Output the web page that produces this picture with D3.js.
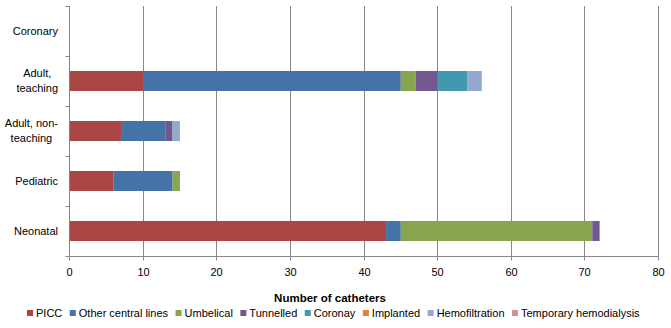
<!DOCTYPE html>
<html lang="en">
<head>
    <meta charset="UTF-8">
    <title>Catheters by unit type</title>
    <script src="https://d3js.org/d3.v7.min.js"></script>
    <style>
        body { margin: 0; background: #fff; }
        text { font-family: "Liberation Sans", Arial, sans-serif; fill: #000; }
    </style>
</head>
<body>
<div id="chart"></div>
<script>
    // categories, top to bottom
    let units = ['Coronary', 'Adult, teaching', 'Adult, non-teaching', 'Pediatric', 'Neonatal'];
    let unitLines = [['Coronary'], ['Adult,', 'teaching'], ['Adult, non-', 'teaching'], ['Pediatric'], ['Neonatal']];

    // catheter types (stack order) and their colours
    let types = ['PICC', 'Other central lines', 'Umbelical', 'Tunnelled', 'Coronay', 'Implanted', 'Hemofiltration', 'Temporary hemodialysis'];
    let colors = ['#AA4643', '#4572A7', '#89A54E', '#71588F', '#4198AF', '#DB843D', '#93A9CF', '#D19392'];

    // counts per type, same order as units
    let picc        = [0, 10, 7, 6, 43];
    let otherLines  = [0, 35, 6, 8, 2];
    let umbelical   = [0, 2, 0, 1, 26];
    let tunnelled   = [0, 3, 1, 0, 1];
    let coronay     = [0, 4, 0, 0, 0];
    let implanted   = [0, 0, 0, 0, 0];
    let hemofilt    = [0, 2, 1, 0, 0];
    let tempHemo    = [0, 0, 0, 0, 0];

    let xTicks = [0, 10, 20, 30, 40, 50, 60, 70, 80];

    let series = [picc, otherLines, umbelical, tunnelled, coronay, implanted, hemofilt, tempHemo];
    let rows = units.map(function (u, i) {
        let r = {unit: u};
        types.forEach(function (t, j) { r[t] = series[j][i]; });
        return r;
    });

    let width = 671, height = 328;
    let svg = d3.select('#chart').append('svg')
        .attr('width', width)
        .attr('height', height);

    let x = d3.scaleLinear().domain([0, 80]).range([69.5, 658.5]);
    let y = d3.scaleBand().domain(units).range([6, 256])
        .paddingInner(0.6).paddingOuter(0.3);
    let color = d3.scaleOrdinal().domain(types).range(colors);
    let px = function (v) { return Math.round(x(v) - 0.5) + 0.5; };

    // vertical grid lines
    svg.append('g')
        .selectAll('line')
        .data(xTicks.slice(1))
        .enter().append('line')
        .attr('x1', px).attr('x2', px)
        .attr('y1', 6).attr('y2', 256)
        .attr('stroke', '#868686');

    // stacked bars
    let stacked = d3.stack().keys(types)(rows);
    svg.append('g')
        .selectAll('g')
        .data(stacked)
        .enter().append('g')
        .attr('fill', function (d) { return color(d.key); })
        .selectAll('rect')
        .data(function (d) { return d; })
        .enter().append('rect')
        .attr('x', function (d) { return x(d[0]); })
        .attr('y', function (d) { return y(d.data.unit); })
        .attr('width', function (d) { return x(d[1]) - x(d[0]); })
        .attr('height', y.bandwidth());

    // x axis
    let xAxis = svg.append('g')
        .attr('transform', 'translate(0,256.5)')
        .call(d3.axisBottom(x).tickValues(xTicks).tickSize(4).tickPadding(8));
    xAxis.select('.domain').attr('stroke', '#868686').attr('d', 'M' + px(0) + ',0H' + px(80));
    xAxis.selectAll('.tick line').attr('stroke', '#868686');
    xAxis.selectAll('.tick').attr('transform', function (d) { return 'translate(' + px(d) + ',0)'; });
    xAxis.selectAll('.tick text')
        .style('font-family', '"Liberation Sans", Arial, sans-serif')
        .style('font-size', '11px').attr('fill', '#000');

    // y axis line with ticks at band edges
    let yEdges = d3.range(units.length + 1).map(function (i) { return 6 + i * y.step(); });
    svg.append('line')
        .attr('x1', px(0)).attr('x2', px(0))
        .attr('y1', 6).attr('y2', 256)
        .attr('stroke', '#868686');
    svg.append('g')
        .selectAll('line')
        .data(yEdges)
        .enter().append('line')
        .attr('x1', px(0) - 4).attr('x2', px(0))
        .attr('y1', function (d) { return d + 0.5; })
        .attr('y2', function (d) { return d + 0.5; })
        .attr('stroke', '#868686');

    // category labels, lines centred on each other, block right-aligned
    unitLines.forEach(function (lines, i) {
        let cy = y(units[i]) + y.bandwidth() / 2;
        let g = svg.append('g');
        let texts = lines.map(function (line, k) {
            return g.append('text')
                .attr('y', cy + (k - (lines.length - 1) / 2) * 15)
                .attr('dy', '0.35em')
                .attr('text-anchor', 'middle')
                .style('font-size', '11px')
                .text(line);
        });
        let w = d3.max(texts, function (t) { return t.node().getComputedTextLength(); });
        texts.forEach(function (t) { t.attr('x', 58 - w / 2); });
    });

    // axis title
    svg.append('text')
        .attr('x', 330).attr('y', 298)
        .attr('dy', '0.35em')
        .attr('text-anchor', 'middle')
        .style('font-size', '11.5px')
        .style('font-weight', 'bold')
        .text('Number of catheters');

    // legend
    let legend = svg.append('g').attr('transform', 'translate(27,313)');
    let lx = 0;
    types.forEach(function (t) {
        legend.append('rect')
            .attr('x', lx).attr('y', -3)
            .attr('width', 6).attr('height', 6)
            .attr('fill', color(t));
        let label = legend.append('text')
            .attr('x', lx + 9).attr('dy', '0.35em')
            .style('font-size', '11px')
            .text(t);
        lx += 9 + label.node().getComputedTextLength() + 7.5;
    });
</script>
</body>
</html>
